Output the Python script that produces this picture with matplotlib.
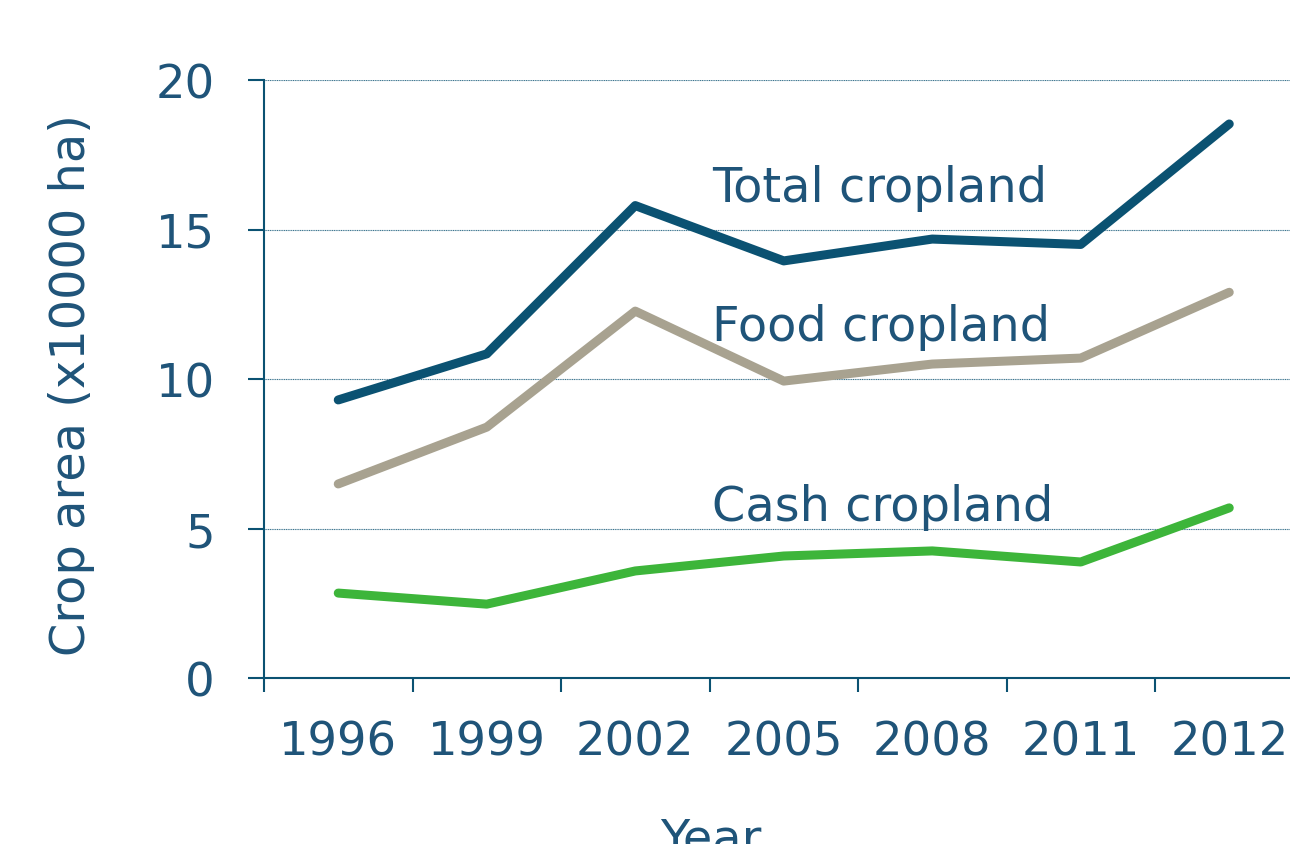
import matplotlib
matplotlib.use('Agg')
import matplotlib.pyplot as plt
import numpy as np

plt.rcParams['font.family'] = ['DejaVu Sans']

years = ['1996', '1999', '2002', '2005', '2008', '2011', '2012']
total = [9.3, 10.84, 15.8, 13.95, 14.68, 14.5, 18.53]
food = [6.49, 8.39, 12.27, 9.93, 10.5, 10.7, 12.9]
cash = [2.84, 2.47, 3.58, 4.08, 4.25, 3.88, 5.69]

TXT = '#1f5479'
C_TOTAL = '#0b5272'
C_FOOD = '#a8a290'
C_CASH = '#3db53a'

W, H = 1290, 845
fig = plt.figure(figsize=(W / 100, H / 100), dpi=100)
# axes: left spine at x=264, y=0 at 679, y=20 at 81
ax = fig.add_axes([264 / W, (H - 679) / H, (1290 - 264) / W, (679 - 81) / H])

x = np.arange(len(years))
lw = 6.5
ax.plot(x, total, color=C_TOTAL, lw=lw, solid_capstyle='round', zorder=3)
ax.plot(x, food, color=C_FOOD, lw=lw, solid_capstyle='round', zorder=3)
ax.plot(x, cash, color=C_CASH, lw=lw, solid_capstyle='round', zorder=3)

ax.set_xlim(-0.5, (1290 - 264) / 148.5 - 0.5)
ax.set_ylim(0, 20)

ax.set_yticks([0, 5, 10, 15, 20])
ax.set_xticks(np.arange(len(years)) - 0.5)
ax.set_xticklabels([])
ax.set_xticks(x, minor=True)
ax.set_xticklabels(years, minor=True)

ax.tick_params(axis='y', direction='out', length=11.5, width=1.5, color=C_TOTAL,
               labelsize=33.5, labelcolor=TXT, pad=24)
ax.tick_params(axis='x', which='major', direction='out', length=10, width=1.5, color=C_TOTAL)
ax.tick_params(axis='x', which='minor', length=0, labelsize=33.5, labelcolor=TXT, pad=30)

for s in ['top', 'right']:
    ax.spines[s].set_visible(False)
for s in ['left', 'bottom']:
    ax.spines[s].set_color(C_TOTAL)
    ax.spines[s].set_linewidth(1.5)

ax.grid(True, axis='y', color=C_TOTAL, lw=0.8, linestyle=(0, (1, 0.6)), alpha=0.8, zorder=1)
ax.set_axisbelow(True)

fs = 34.5
ax.text(2.517, 16.4, 'Total cropland', fontsize=fs, color=TXT, va='center', ha='left')
ax.text(2.517, 11.77, 'Food cropland', fontsize=fs, color=TXT, va='center', ha='left')
ax.text(2.517, 5.72, 'Cash cropland', fontsize=fs, color=TXT, va='center', ha='left')

fig.text(72 / W, 1 - 385 / H, 'Crop area (x10000 ha)', rotation=90, fontsize=fs,
         color=TXT, ha='center', va='center')
fig.text(711 / W, 1 - 840 / H, 'Year', fontsize=fs, color=TXT, ha='center', va='center')

fig.savefig('out.png', dpi=100, facecolor='white')
